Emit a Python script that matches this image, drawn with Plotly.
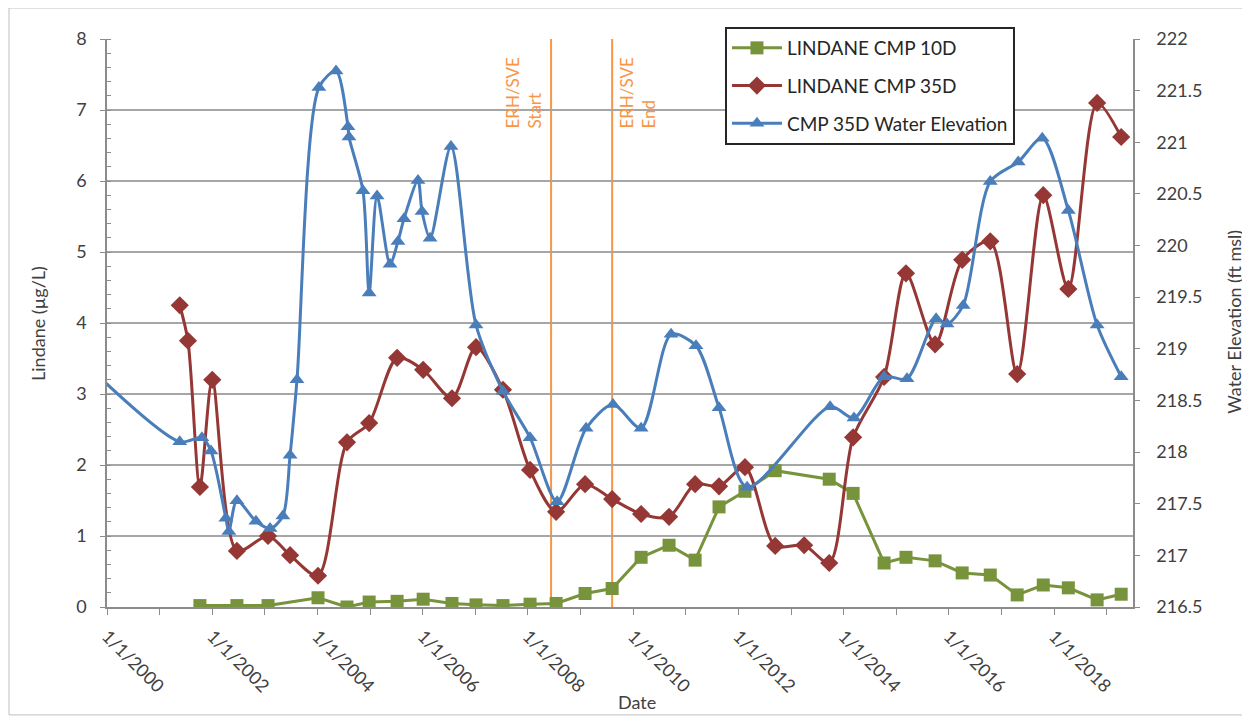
import plotly.graph_objects as go

# ---------------- data ----------------
dates_10d = ["2001-10-07", "2002-06-21", "2003-01-23", "2004-01-05", "2004-07-24", "2004-12-25",
             "2005-07-07", "2006-01-04", "2006-07-23", "2007-01-06", "2007-07-12", "2008-01-16",
             "2008-07-15", "2009-02-01", "2009-08-08", "2010-02-25", "2010-09-07", "2011-03-07",
             "2011-08-20", "2012-02-16", "2012-09-13", "2013-09-23", "2014-03-08", "2014-10-09",
             "2015-03-10", "2015-09-28", "2016-04-03", "2016-10-15", "2017-04-20", "2017-10-18",
             "2018-04-10", "2018-10-27", "2019-04-12"]
lindane_10d = [0.02, 0.02, 0.02, 0.13, 0.0, 0.07,
               0.08, 0.11, 0.05, 0.03, 0.02, 0.04,
               0.05, 0.19, 0.26, 0.70, 0.87, 0.66,
               1.41, 1.63, 1.92, 1.80, 1.60, 0.62,
               0.70, 0.65, 0.48, 0.45, 0.17, 0.31,
               0.27, 0.10, 0.18]

dates_35d = ["2001-05-20", "2001-07-16", "2001-10-07", "2002-01-01", "2002-06-21", "2003-01-23",
             "2003-06-25", "2004-01-05", "2004-07-24", "2004-12-25", "2005-07-07", "2006-01-04",
             "2006-07-23", "2007-01-06", "2007-07-12", "2008-01-16", "2008-07-15", "2009-02-01",
             "2009-08-08", "2010-02-25", "2010-09-07", "2011-03-07", "2011-08-20", "2012-02-16",
             "2012-09-13", "2013-04-02", "2013-09-23", "2014-03-08", "2014-10-09", "2015-03-10",
             "2015-09-28", "2016-04-03", "2016-10-15", "2017-04-20", "2017-10-18", "2018-04-10",
             "2018-10-27", "2019-04-12"]
lindane_35d = [4.25, 3.75, 1.69, 3.20, 0.79, 1.00,
               0.73, 0.44, 2.32, 2.59, 3.51, 3.34,
               2.94, 3.66, 3.06, 1.93, 1.34, 1.73,
               1.52, 1.31, 1.27, 1.73, 1.70, 1.97,
               0.86, 0.87, 0.62, 2.39, 3.24, 4.70,
               3.70, 4.89, 5.15, 3.28, 5.80, 4.48,
               7.10, 6.62]

dates_wl = ["1999-07-01", "2001-05-20", "2001-10-21", "2001-12-23", "2002-04-05", "2002-04-26",
            "2002-06-21", "2002-10-31", "2003-02-06", "2003-05-06", "2003-06-25", "2003-08-12",
            "2004-01-11", "2004-05-09", "2004-07-31", "2004-08-07", "2004-11-12", "2004-12-25",
            "2005-02-18", "2005-05-19", "2005-07-13", "2005-08-24", "2005-11-29", "2005-12-27",
            "2006-02-21", "2006-07-16", "2007-01-06", "2007-07-12", "2008-01-16", "2008-07-22",
            "2009-02-08", "2009-08-14", "2010-02-25", "2010-09-21", "2011-03-13", "2011-08-20",
            "2012-03-02", "2013-09-29", "2014-03-14", "2014-10-09", "2015-03-17", "2015-10-05",
            "2015-12-20", "2016-04-10", "2016-10-15", "2017-04-27", "2017-10-11", "2018-04-10",
            "2018-10-27", "2019-04-12"]
water_elev = [218.90, 218.10, 218.14, 218.01, 217.36, 217.23,
              217.53, 217.33, 217.26, 217.38, 217.97, 218.70,
              221.53, 221.69, 221.15, 221.05, 220.53, 219.54,
              220.48, 219.82, 220.04, 220.26, 220.63, 220.33,
              220.07, 220.96, 219.23, 218.59, 218.14, 217.52,
              218.23, 218.46, 218.23, 219.14, 219.03, 218.43,
              217.66, 218.44, 218.33, 218.73, 218.71, 219.29,
              219.24, 219.42, 220.62, 220.81, 221.04, 220.34,
              219.23, 218.73]

erh_dates = ["2008-06-10", "2009-08-08"]
erh_labels = ["ERH/SVE<br>Start", "ERH/SVE<br>End"]

x_tick_vals = ["2000-01-01", "2002-01-01", "2004-01-01", "2006-01-01", "2008-01-01",
               "2010-01-01", "2012-01-01", "2014-01-01", "2016-01-01", "2018-01-01"]
x_tick_text = ["1/1/2000", "1/1/2002", "1/1/2004", "1/1/2006", "1/1/2008",
               "1/1/2010", "1/1/2012", "1/1/2014", "1/1/2016", "1/1/2018"]

# ---------------- style ----------------
FONT = "Lato"
TXT = "#404040"
GRID = "#A6A6A6"
AXIS = "#8C8C8C"
GREEN = "#77933C"
RED = "#953735"
BLUE = "#4A7EBB"
ORANGE = "#F79646"

fig = go.Figure()

fig.add_trace(go.Scatter(
    x=dates_10d, y=lindane_10d, name="LINDANE CMP 10D", mode="lines+markers",
    line=dict(color=GREEN, width=3),
    marker=dict(symbol="square", size=13, color=GREEN),
    legendgroup="a", yaxis="y"))
fig.add_trace(go.Scatter(
    x=dates_35d, y=lindane_35d, name="LINDANE CMP 35D", mode="lines+markers",
    line=dict(color=RED, width=3, shape="spline", smoothing=0.8),
    marker=dict(symbol="diamond", size=14, color=RED),
    legendgroup="b", yaxis="y"))
fig.add_trace(go.Scatter(
    x=dates_wl, y=water_elev, name="CMP 35D Water Elevation", mode="lines+markers",
    line=dict(color=BLUE, width=3, shape="spline", smoothing=0.8),
    marker=dict(symbol="triangle-up", size=13, color=BLUE),
    legendgroup="c", yaxis="y2"))

# ERH/SVE lines
for d in erh_dates:
    fig.add_shape(type="line", xref="x", yref="paper", x0=d, x1=d, y0=0, y1=1,
                  line=dict(color=ORANGE, width=2), layer="between")

fig.add_annotation(x=erh_dates[0], y=0.905, xref="x", yref="paper", text=erh_labels[0],
                   textangle=-90, showarrow=False, xanchor="right", yanchor="middle",
                   xshift=-4, align="left", font=dict(family=FONT, size=17, color=ORANGE))
fig.add_annotation(x=erh_dates[1], y=0.905, xref="x", yref="paper", text=erh_labels[1],
                   textangle=-90, showarrow=False, xanchor="left", yanchor="middle",
                   xshift=2, align="left", font=dict(family=FONT, size=17, color=ORANGE))

# axis titles
fig.add_annotation(x=0.5166, y=-0.167, xref="paper", yref="paper", text="Date",
                   xanchor="center", yanchor="middle",
                   showarrow=False, font=dict(family=FONT, size=18, color=TXT))
fig.add_annotation(x=-0.0673, y=0.5, xref="paper", yref="paper", text="Lindane (µg/L)",
                   xanchor="center", yanchor="middle",
                   textangle=-90, showarrow=False, font=dict(family=FONT, size=18, color=TXT))
fig.add_annotation(x=1.0984, y=0.502, xref="paper", yref="paper", text="Water Elevation (ft msl)",
                   xanchor="center", yanchor="middle",
                   textangle=-90, showarrow=False, font=dict(family=FONT, size=18, color=TXT))

# chart-area border
fig.add_shape(type="rect", xref="paper", yref="paper",
              x0=-0.0955, x1=1.108, y0=-0.190, y1=1.0546,
              line=dict(color="#BFBFBF", width=1), layer="below")

# the page body adds an 8px offset, so the figure is sized/margined to compensate
fig.update_layout(
    width=1242, height=714,
    margin=dict(l=99, r=117, t=31, b=115, autoexpand=False),
    paper_bgcolor="white", plot_bgcolor="white",
    font=dict(family=FONT, size=18, color=TXT),
    showlegend=True,
    legend=dict(x=0.6023, y=1.0211, xanchor="left", yanchor="top",
                bgcolor="white", bordercolor="#262626", borderwidth=2,
                font=dict(family=FONT, size=19, color="#262626"),
                tracegroupgap=10, itemwidth=50),
    xaxis=dict(type="date", range=["2000-01-01", "2019-07-03"], automargin=False,
               tickmode="array", tickvals=x_tick_vals, ticktext=x_tick_text,
               tickangle=45, ticks="outside", ticklen=6, tickcolor=AXIS,
               ticklabelstandoff=4,
               minor=dict(dtick="M12", tick0="2000-01-01", ticks="outside", ticklen=6,
                          tickcolor=AXIS, showgrid=False),
               showline=True, linecolor=AXIS, linewidth=1.5, showgrid=False, zeroline=False,
               tickfont=dict(family=FONT, size=18, color=TXT)),
    yaxis=dict(range=[0, 8], dtick=1, tick0=0, showgrid=True, gridcolor=GRID, gridwidth=2,
               showline=True, linecolor=AXIS, linewidth=1.5, zeroline=False, automargin=False,
               ticks="outside", ticklen=5, tickcolor=AXIS,
               minor=dict(dtick=0.2, ticks="inside", ticklen=4, tickcolor=AXIS, showgrid=False),
               ticklabelstandoff=10,
               tickfont=dict(family=FONT, size=18, color=TXT)),
    yaxis2=dict(range=[216.5, 222], dtick=0.5, tick0=216.5, overlaying="y", side="right",
                showgrid=False, showline=True, linecolor=AXIS, linewidth=1.5, zeroline=False,
                automargin=False,
                ticks="outside", ticklen=5, tickcolor=AXIS, ticklabelstandoff=13,
                tickfont=dict(family=FONT, size=18, color=TXT)),
)

fig.write_html("out.html")
